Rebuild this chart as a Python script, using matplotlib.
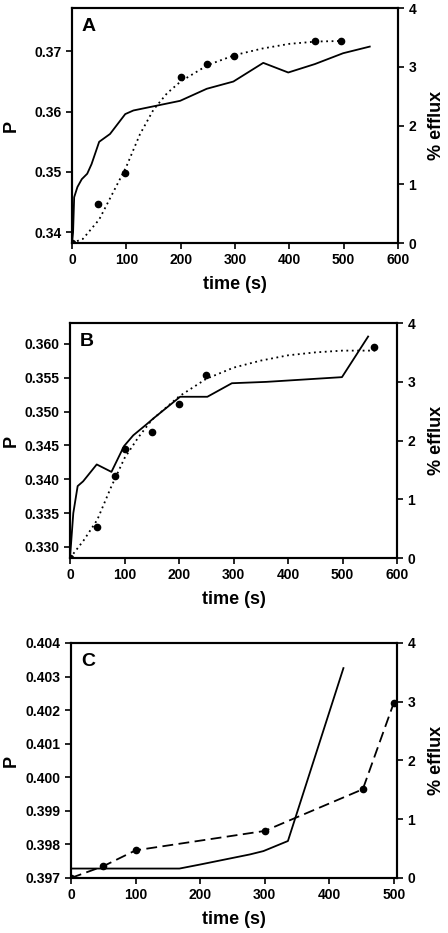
import numpy as np
import matplotlib.pyplot as plt

plt.rcParams['font.family'] = ['Liberation Sans', 'DejaVu Sans']
plt.rcParams['font.weight'] = 'bold'

# Panel A
a_t = [0, 2, 4, 10, 18, 28, 36, 50, 70, 98, 113, 156, 199, 248, 297, 352, 398, 447, 499, 548]
a_p = [0.3382, 0.340, 0.3458, 0.3475, 0.3488, 0.3497, 0.3513, 0.355, 0.3563, 0.3596, 0.3602,
       0.361, 0.3618, 0.3638, 0.365, 0.3681, 0.3665, 0.3679, 0.3697, 0.3708]
a_et = [0, 48, 98, 200, 249, 298, 447, 496]
a_ef = [0, 0.67, 1.19, 2.82, 3.04, 3.18, 3.44, 3.44]
a_ft = [0, 20, 50, 75, 100, 125, 150, 175, 200, 250, 300, 350, 400, 450, 500]
a_fit = [0, 0.07, 0.4, 0.85, 1.3, 1.85, 2.27, 2.55, 2.75, 3.03, 3.2, 3.31, 3.39, 3.43, 3.44]

# Panel B
b_t = [0, 2, 6, 14, 24, 49, 76, 99, 116, 140, 153, 202, 252, 297, 360, 499, 547]
b_p = [0.3285, 0.3306, 0.335, 0.339, 0.3397, 0.3422, 0.3411, 0.3449, 0.3465, 0.3481, 0.349,
       0.3522, 0.3522, 0.3542, 0.3544, 0.3551, 0.3611]
b_et = [0, 50, 82, 101, 150, 200, 250, 558]
b_ef = [0, 0.52, 1.39, 1.86, 2.15, 2.62, 3.12, 3.6]
b_ft = [0, 25, 50, 75, 100, 125, 150, 200, 250, 300, 350, 400, 450, 500, 560]
b_fit = [0, 0.3, 0.65, 1.2, 1.7, 2.05, 2.35, 2.75, 3.05, 3.24, 3.36, 3.45, 3.5, 3.53, 3.53]

# Panel C
c_t = [0, 168, 200, 277, 298, 336, 422]
c_p = [0.39728, 0.39728, 0.3974, 0.3977, 0.3978, 0.3981, 0.40325]
c_et = [0, 50, 100, 300, 452, 500]
c_ef = [0, 0.2, 0.47, 0.8, 1.51, 2.98]

W, H = 448, 933
fig = plt.figure(figsize=(W / 100, H / 100), dpi=100)

panels = [
    ('A', [0.1607, 0.7395, 0.7277, 0.2519], (0, 600), (0.3382, 0.3772),
     [0.34, 0.35, 0.36, 0.37], '%.2f', np.arange(0, 601, 100)),
    ('B', [0.1563, 0.4019, 0.7299, 0.2519], (0, 600), (0.32837, 0.3631),
     [0.330, 0.335, 0.340, 0.345, 0.350, 0.355, 0.360], '%.3f', np.arange(0, 601, 100)),
    ('C', [0.1585, 0.0590, 0.7277, 0.2519], (0, 505), (0.397, 0.404),
     [0.397, 0.398, 0.399, 0.400, 0.401, 0.402, 0.403, 0.404], '%.3f', np.arange(0, 501, 100)),
]

tick_kw = dict(direction='out', length=4, width=1.2, labelsize=10)

for letter, rect, xl, yl, yt, fmt, xt in panels:
    ax = fig.add_axes(rect)
    ax2 = ax.twinx()
    if letter == 'A':
        ax.plot(a_t, a_p, 'k-', lw=1.3)
        ax2.plot(a_ft, a_fit, color='k', ls=(0, (1, 2)), lw=1.3)
        ax2.plot(a_et, a_ef, 'ko', ms=4.5, ls='none')
    elif letter == 'B':
        ax.plot(b_t, b_p, 'k-', lw=1.3)
        ax2.plot(b_ft, b_fit, color='k', ls=(0, (1, 2)), lw=1.3)
        ax2.plot(b_et, b_ef, 'ko', ms=4.5, ls='none')
    else:
        ax.plot(c_t, c_p, 'k-', lw=1.3)
        ax2.plot(c_et, c_ef, color='k', ls=(0, (6, 3)), lw=1.3, marker='o', ms=4.5)
    ax.set_xlim(*xl)
    ax.set_ylim(*yl)
    ax.set_xticks(xt)
    ax.set_yticks(yt)
    ax.set_yticklabels([fmt % v for v in yt])
    ax2.set_ylim(0, 4)
    ax2.set_yticks([0, 1, 2, 3, 4])
    ax.tick_params(**tick_kw)
    ax2.tick_params(**tick_kw)
    for a in (ax, ax2):
        for s in a.spines.values():
            s.set_linewidth(1.5)
    ax.set_xlabel('time (s)', fontsize=13, fontweight='bold', labelpad=6)
    ymid = rect[1] + rect[3] / 2
    fig.text(11 / W, ymid, 'P', fontsize=13, fontweight='bold', rotation=90,
             ha='center', va='center')
    fig.text(436 / W, ymid, '% efflux', fontsize=13, fontweight='bold', rotation=90,
             ha='center', va='center')
    ax.text(0.03, 0.92, letter, transform=ax.transAxes, fontsize=14,
            fontweight='bold', va='center', ha='left')
    for lab in ax.get_xticklabels() + ax.get_yticklabels() + ax2.get_yticklabels():
        lab.set_fontweight('bold')

fig.savefig('out.png', dpi=100)
